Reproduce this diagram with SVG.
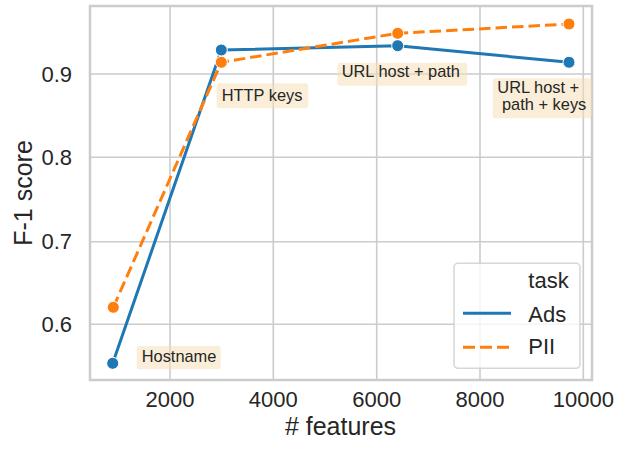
<svg xmlns="http://www.w3.org/2000/svg" width="619" height="449" viewBox="0 0 619 449">
<style>
text{font-family:"Liberation Sans",Arial,sans-serif;fill:#262626}
.tick{font-size:22px}
.lab{font-size:25px}
.ann{font-size:16.4px}
.leg{font-size:22px}
.grid{stroke:#cccccc;stroke-width:1.6;fill:none}
.box{fill:#f5deb3;fill-opacity:0.5}
.ads{stroke:#1f77b4;stroke-width:3;fill:none;stroke-linejoin:round;stroke-linecap:round}
.pii{stroke:#ff7f0e;stroke-width:3;fill:none;stroke-dasharray:11.5 5;stroke-linejoin:round}
.ma{fill:#1f77b4;stroke:#ffffff;stroke-width:1}
.mp{fill:#ff7f0e;stroke:#ffffff;stroke-width:1}
</style>
<rect width="619" height="449" fill="#ffffff"/>
<g id="grid">
<path class="grid" d="M170 6V380M273.3 6V380M376.7 6V380M480 6V380M583.3 6V380"/>
<path class="grid" d="M90 74H592M90 157.3H592M90 241.7H592M90 324.3H592"/>
</g>
<rect id="axes" x="90" y="6" width="502" height="374" fill="none" stroke="#cccccc" stroke-width="2.5"/>
<g id="ticks">
<text class="tick" x="170" y="407" text-anchor="middle">2000</text>
<text class="tick" x="273.3" y="407" text-anchor="middle">4000</text>
<text class="tick" x="376.7" y="407" text-anchor="middle">6000</text>
<text class="tick" x="480" y="407" text-anchor="middle">8000</text>
<text class="tick" x="583.3" y="407" text-anchor="middle">10000</text>
<text class="tick" x="72" y="81.7" text-anchor="end">0.9</text>
<text class="tick" x="72" y="165" text-anchor="end">0.8</text>
<text class="tick" x="72" y="249.4" text-anchor="end">0.7</text>
<text class="tick" x="72" y="332" text-anchor="end">0.6</text>
</g>
<g id="axis-labels">
<text class="lab" x="340.5" y="435" text-anchor="middle"># features</text>
<text class="lab" x="0" y="0" text-anchor="middle" transform="translate(31.5 193) rotate(-90)">F-1 score</text>
</g>
<g id="annotations">
<g id="ann-hostname"><rect class="box" x="136.7" y="346" width="84" height="23.3" rx="3"/><text class="ann" x="141.7" y="362.3">Hostname</text></g>
<g id="ann-http"><rect class="box" x="216.7" y="83.3" width="91.6" height="25" rx="3"/><text class="ann" x="221.7" y="100.7">HTTP keys</text></g>
<g id="ann-url"><rect class="box" x="337.3" y="62.7" width="130" height="23" rx="3"/><text class="ann" x="341.7" y="77.3">URL host + path</text></g>
<g id="ann-urlkeys"><rect class="box" x="492.7" y="78.3" width="99" height="40" rx="3"/><text class="ann" x="497.3" y="93.3">URL host +</text><text class="ann" x="502" y="110">path + keys</text></g>
</g>
<g id="connectors">
<polyline id="line-ads" class="ads" points="112.7,363.3 221.3,50 397.7,45.7 569,62.3"/>
<polyline id="line-pii" class="pii" points="113.3,307.3 221.3,62.3 397.7,33.3 569,24"/>
</g>
<g id="markers-ads">
<circle class="ma" cx="112.7" cy="363.3" r="6"/>
<circle class="ma" cx="221.3" cy="50" r="6"/>
<circle class="ma" cx="397.7" cy="45.7" r="6"/>
<circle class="ma" cx="569" cy="62.3" r="6"/>
</g>
<g id="markers-pii">
<circle class="mp" cx="113.3" cy="307.3" r="6"/>
<circle class="mp" cx="221.3" cy="62.3" r="6"/>
<circle class="mp" cx="397.7" cy="33.3" r="6"/>
<circle class="mp" cx="569" cy="24" r="6"/>
</g>
<g id="legend">
<rect x="454" y="263.3" width="126" height="105" rx="4" fill="#ffffff" fill-opacity="0.8" stroke="#cccccc" stroke-opacity="0.8" stroke-width="1.5"/>
<text class="leg" x="528.3" y="288.3">task</text>
<line x1="463" y1="313.3" x2="511" y2="313.3" stroke="#1f77b4" stroke-width="3"/>
<text class="leg" x="528.3" y="321.7">Ads</text>
<line x1="463" y1="347.3" x2="511" y2="347.3" stroke="#ff7f0e" stroke-width="3" stroke-dasharray="12 5"/>
<text class="leg" x="528.3" y="354">PII</text>
</g>
</svg>
